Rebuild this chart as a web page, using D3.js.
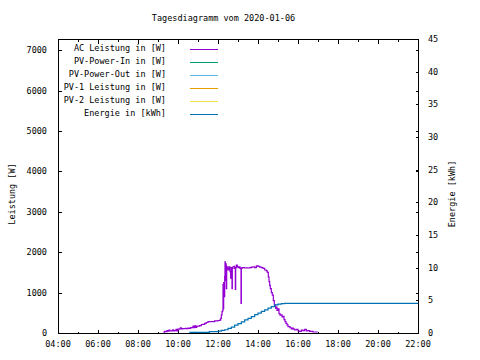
<!DOCTYPE html>
<html>
<head>
<meta charset="utf-8">
<script src="https://cdn.jsdelivr.net/npm/d3@7"></script>
<style>
  html, body { margin: 0; padding: 0; background: #fff; }
  svg { display: block; }
  text { font-family: "DejaVu Sans Mono", "Liberation Mono", monospace; font-size: 8.5px; fill: #000; }
</style>
</head>
<body>
<svg id="chart" width="480" height="360"></svg>
<script>
// ---------------- data ----------------
const title = "Tagesdiagramm vom 2020-01-06";
const yLabelLeft = "Leistung [W]";
const yLabelRight = "Energie [kWh]";
const xTickLabels = ["04:00","06:00","08:00","10:00","12:00","14:00","16:00","18:00","20:00","22:00"];
const leftTicks = [0,1000,2000,3000,4000,5000,6000,7000];
const rightTicks = [0,5,10,15,20,25,30,35,40,45];

const legendNames = ["AC Leistung in [W]","PV-Power-In in [W]","PV-Power-Out in [W]","PV-1 Leistung in [W]","PV-2 Leistung in [W]","Energie in [kWh]"];
const legendColors = ["#9400d3","#009e73","#56b4e9","#e69f00","#f0e442","#0072b2"];

// AC Leistung [W]
const acTimes = ["09:16","09:20","09:24","09:27","09:30","09:33","09:36","09:40","09:44","09:47","09:50","09:54","09:57",
  "10:00","10:04","10:07","10:10","10:14","10:18","10:22","10:26","10:30","10:34","10:38","10:42","10:45","10:47","10:50","10:53","10:56",
  "11:00","11:05","11:10","11:15","11:20","11:25","11:30","11:35","11:40","11:45","11:50","11:55",
  "12:00","12:05","12:08","12:10","12:12","12:14","12:15","12:16","12:17","12:18","12:20","12:21","12:22","12:23","12:24","12:25","12:26","12:28",
  "12:30","12:32","12:34","12:36","12:38","12:40","12:42","12:43","12:45","12:48","12:50","12:52","12:53","12:55","12:58",
  "13:00","13:03","13:06","13:08","13:09","13:10","13:12","13:15","13:20","13:25","13:30","13:35","13:40","13:45","13:50","13:55",
  "14:00","14:05","14:10","14:15","14:20","14:25","14:28","14:31","14:33","14:35","14:37","14:40","14:43","14:46","14:49","14:53","14:55","14:57",
  "15:00","15:03","15:06","15:09","15:12","15:15","15:18","15:21","15:24","15:27","15:30","15:33","15:36","15:40","15:43","15:46","15:50","15:55",
  "16:00","16:05","16:10","16:15","16:20","16:25","16:30","16:35","16:40","16:45","16:50","16:55","16:58"];
const acValues = [20,40,35,60,45,70,50,55,80,50,60,90,55,
  95,100,130,100,110,105,115,110,120,115,135,130,170,135,175,140,170,
  170,185,210,215,240,260,280,280,285,280,300,300,
  310,320,360,450,530,560,1200,600,1250,900,1400,1760,1300,1720,1680,1100,1560,1640,
  1600,1560,1640,1520,1360,1620,1100,1600,1640,1650,1600,1080,1620,1680,1640,
  1620,1640,1600,1610,730,1600,1620,1620,1610,1615,1610,1620,1630,1640,1620,1660,
  1650,1630,1620,1600,1560,1540,1500,1390,1270,1180,1100,1000,940,800,690,610,640,560,
  600,480,440,450,400,410,330,280,240,200,156,160,130,99,120,95,74,90,
  49,40,70,60,90,55,58,40,40,25,25,25,20];

// Energie [kWh]
const energyTimes = ["10:34","11:34","12:00","12:10","12:20","12:30","12:40","12:50",
  "13:00","13:10","13:20","13:30","13:40","13:50","14:00","14:10","14:20","14:30","14:40","14:50",
  "15:00","15:10","15:20","22:00"];
const energyValues = [0.1,0.2,0.3,0.4,0.5,0.7,0.9,1.2,
  1.45,1.7,2.0,2.25,2.5,2.8,3.05,3.3,3.55,3.8,4.05,4.3,
  4.42,4.5,4.54,4.54];

// ---------------- layout ----------------
const svg = d3.select("#chart");
const L = 58, R = 418, T = 39, B = 333;
const parse = d3.timeParse("%H:%M");

const x = d3.scaleTime().domain([parse("04:00"), parse("22:00")]).range([L, R]);
const y = d3.scaleLinear().domain([0, 7280]).range([B, T]);
const y2 = d3.scaleLinear().domain([0, 45]).range([B, T]);

const px = v => Math.round(v) + 0.5;

// frame
svg.append("rect")
  .attr("x", L + 0.5).attr("y", T + 0.5)
  .attr("width", R - L).attr("height", B - T)
  .attr("fill", "none").attr("stroke", "#000").attr("stroke-width", 1)
  .attr("shape-rendering", "crispEdges");

const tickG = svg.append("g").attr("stroke", "#000").attr("stroke-width", 1).attr("shape-rendering", "crispEdges");

// x ticks: major every 2h, minor every 1h, on bottom and top (inward)
const majorX = xTickLabels.map(parse);
const minorX = d3.timeHour.range(parse("05:00"), parse("22:00"), 2);
majorX.forEach(d => {
  const xx = px(x(d));
  tickG.append("line").attr("x1", xx).attr("x2", xx).attr("y1", B + 0.5).attr("y2", B - 3.5);
  tickG.append("line").attr("x1", xx).attr("x2", xx).attr("y1", T + 0.5).attr("y2", T + 4.5);
});
minorX.forEach(d => {
  const xx = px(x(d));
  tickG.append("line").attr("x1", xx).attr("x2", xx).attr("y1", B + 0.5).attr("y2", B - 1.5);
  tickG.append("line").attr("x1", xx).attr("x2", xx).attr("y1", T + 0.5).attr("y2", T + 2.5);
});

// left ticks (and mirrored on right)
leftTicks.forEach(v => {
  const yy = px(y(v));
  tickG.append("line").attr("x1", L + 0.5).attr("x2", L + 3.5).attr("y1", yy).attr("y2", yy);
  tickG.append("line").attr("x1", R + 0.5).attr("x2", R - 2.5).attr("y1", yy).attr("y2", yy);
});
// right ticks
rightTicks.forEach(v => {
  const yy = px(y2(v));
  tickG.append("line").attr("x1", R + 0.5).attr("x2", R - 2.5).attr("y1", yy).attr("y2", yy);
});

// tick labels
svg.append("g").selectAll("text").data(majorX).join("text")
  .attr("x", d => x(d)).attr("y", 344)
  .attr("text-anchor", "middle").attr("dominant-baseline", "central")
  .text(d => d3.timeFormat("%H:%M")(d));

svg.append("g").selectAll("text").data(leftTicks).join("text")
  .attr("x", 47).attr("y", d => y(d))
  .attr("text-anchor", "end").attr("dominant-baseline", "central")
  .text(d => d);

svg.append("g").selectAll("text").data(rightTicks).join("text")
  .attr("x", 428).attr("y", d => y2(d))
  .attr("text-anchor", "start").attr("dominant-baseline", "central")
  .text(d => d);

// title & axis labels
svg.append("text").attr("x", 223.5).attr("y", 17.5)
  .attr("text-anchor", "middle").attr("dominant-baseline", "central").text(title);
svg.append("text").attr("transform", "translate(11.5,194) rotate(-90)")
  .attr("text-anchor", "middle").attr("dominant-baseline", "central").text(yLabelLeft);
svg.append("text").attr("transform", "translate(452,194) rotate(-90)")
  .attr("text-anchor", "middle").attr("dominant-baseline", "central").text(yLabelRight);

// legend
const lg = svg.append("g");
legendNames.forEach((name, i) => {
  const ly = 49.5 + i * 13;
  lg.append("text").attr("x", 166).attr("y", ly - 1.5)
    .attr("text-anchor", "end").attr("dominant-baseline", "central").text(name);
  lg.append("line").attr("x1", 190).attr("x2", 218).attr("y1", ly).attr("y2", ly)
    .attr("stroke", legendColors[i]).attr("stroke-width", 1).attr("shape-rendering", "crispEdges");
});

// series
const acData = acTimes.map((t, i) => ({ t: parse(t), v: acValues[i] }));
const enData = energyTimes.map((t, i) => ({ t: parse(t), v: energyValues[i] }));

const acLine = d3.line().x(d => x(d.t)).y(d => y(d.v)).curve(d3.curveStepAfter);
const enLine = d3.line().x(d => x(d.t)).y(d => y2(d.v)).curve(d3.curveStepAfter);

svg.append("path").datum(acData).attr("d", acLine)
  .attr("fill", "none").attr("stroke", legendColors[0]).attr("stroke-width", 1.2);
svg.append("path").datum(enData).attr("d", enLine)
  .attr("fill", "none").attr("stroke", legendColors[5]).attr("stroke-width", 1.2);
</script>
</body>
</html>
